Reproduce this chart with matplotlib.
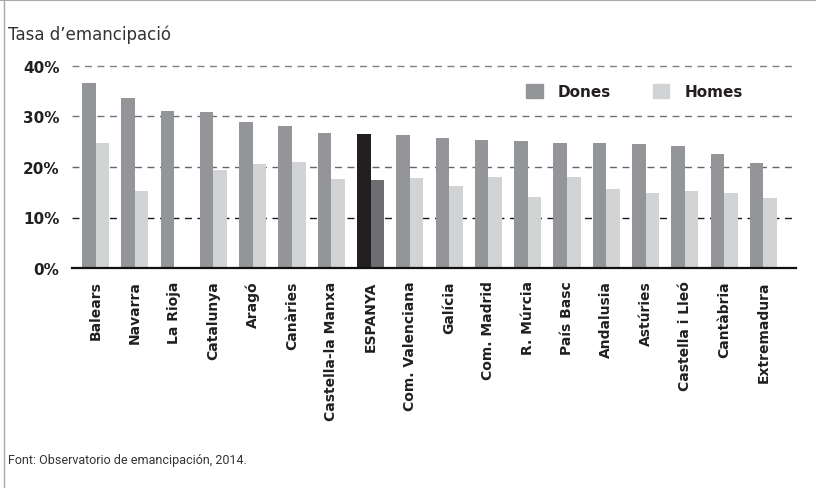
import matplotlib

matplotlib.use("Agg")
import matplotlib.pyplot as plt
import numpy as np
from matplotlib.patches import Rectangle
from matplotlib.lines import Line2D

regions = [
    "Balears", "Navarra", "La Rioja", "Catalunya", "Aragó", "Canàries",
    "Castella-la Manxa", "ESPANYA", "Com. Valenciana", "Galícia",
    "Com. Madrid", "R. Múrcia", "País Basc", "Andalusia", "Astúries",
    "Castella i Lleó", "Cantàbria", "Extremadura",
]
dones = [36.6, 33.7, 31.1, 30.9, 28.9, 28.1, 26.7, 26.5, 26.3, 25.7,
         25.3, 25.1, 24.8, 24.8, 24.5, 24.2, 22.6, 20.8]
homes = [24.8, 15.2, np.nan, 19.4, 20.6, 21.0, 17.6, 17.4, 17.8, 16.2,
         18.0, 14.1, 18.0, 15.6, 14.9, 15.2, 14.9, 13.9]
yticks = [0, 10, 20, 30, 40]

C_DONES = "#939598"
C_HOMES = "#d1d3d4"
C_ESP_DONES = "#231f20"
C_ESP_HOMES = "#6d6e71"

fig = plt.figure(figsize=(8.16, 4.89), dpi=100)
ax = fig.add_axes([72 / 816, 1 - 269 / 489, 724 / 816, 202 / 489])

x = np.arange(len(regions))
w = 0.345
c_d = [C_ESP_DONES if r == "ESPANYA" else C_DONES for r in regions]
c_h = [C_ESP_HOMES if r == "ESPANYA" else C_HOMES for r in regions]
ax.bar(x - w / 2, dones, width=w, color=c_d, zorder=3)
ax.bar(x + w / 2, np.nan_to_num(homes), width=w, color=c_h, zorder=3)

ax.set_xlim(-0.6, len(regions) - 1 + 0.83)
ax.set_ylim(0, 40)
ax.set_yticks(yticks)
ax.set_yticklabels([f"{t}%" for t in yticks], fontsize=11, fontweight="bold", color="#231f20")
ax.set_xticks(x)
ax.set_xticklabels(regions, rotation=90, fontsize=10, fontweight="bold", color="#231f20")
ax.tick_params(length=0, axis="both")
ax.tick_params(axis="x", pad=9)
ax.tick_params(axis="y", pad=9)

# dashed guides, darker towards the bottom like the original
grid_colors = {10: "#1a1a1a", 20: "#666666", 30: "#707070", 40: "#808080"}
for t, col in grid_colors.items():
    ax.axhline(t, color=col, lw=1.0, ls=(0, (5, 4)), zorder=1, clip_on=False)

for s in ["top", "right", "left"]:
    ax.spines[s].set_visible(False)
ax.spines["bottom"].set_linewidth(1.6)
ax.spines["bottom"].set_color("#111111")
ax.spines["bottom"].set_zorder(4)

handles = [Rectangle((0, 0), 1, 1, color=C_DONES), Rectangle((0, 0), 1, 1, color=C_HOMES)]
leg = ax.legend(handles, ["Dones", "Homes"], loc="upper left", bbox_to_anchor=(0.608, 0.98),
                ncol=2, frameon=False, handlelength=1.1, handleheight=1.1,
                columnspacing=2.7, handletextpad=1.0, prop={"weight": "bold", "size": 11})
for t in leg.get_texts():
    t.set_color("#231f20")

fig.text(8 / 816, 1 - 35 / 489, "Tasa d\u2019emancipació", fontsize=12, color="#333333", va="center")
fig.text(8 / 816, 1 - 461 / 489, "Font: Observatorio de emancipación, 2014.", fontsize=9,
         family=["Roboto", "DejaVu Sans"], color="#333333", va="center")

fig.add_artist(Line2D([0, 1], [1 - 0.8 / 489, 1 - 0.8 / 489], color="#a7a9ac", lw=1.5))
fig.add_artist(Line2D([3.5 / 816, 3.5 / 816], [0, 1], color="#a7a9ac", lw=1.0))

fig.savefig("out.png", dpi=100)
